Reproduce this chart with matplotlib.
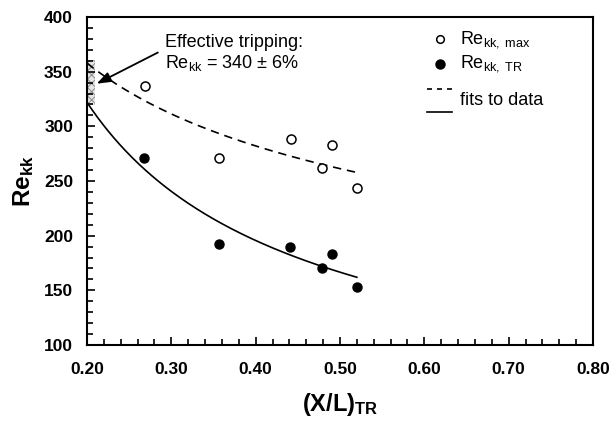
import numpy as np
import matplotlib
matplotlib.use("Agg")
import matplotlib.pyplot as plt
from matplotlib.patches import Rectangle
from matplotlib.ticker import MultipleLocator, FormatStrFormatter

plt.rcParams['font.family'] = ['Liberation Sans', 'DejaVu Sans']
plt.rcParams['mathtext.fontset'] = 'custom'
plt.rcParams['mathtext.rm'] = 'Liberation Sans'
plt.rcParams['mathtext.it'] = 'Liberation Sans:italic'
plt.rcParams['mathtext.bf'] = 'Liberation Sans:bold'
plt.rcParams['hatch.linewidth'] = 0.7

# data
x_max = [0.269, 0.357, 0.442, 0.479, 0.490, 0.520]
re_max = [337, 271, 288, 262, 283, 244]
x_tr = [0.268, 0.357, 0.441, 0.479, 0.490, 0.520]
re_tr = [271, 192, 190, 170, 183, 153]

# power-law fits  Re = a * x^b
fit_max = (206.0, -0.343)
fit_tr = (101.2, -0.719)
fit_range = (0.20, 0.52)

trip_value = 340
trip_pct = 0.06
trip_x = (0.20, 0.2095)

fig = plt.figure(figsize=(6.11, 4.22), dpi=100)
ax = fig.add_axes([0.1424, 0.1825, 0.8281, 0.7772])

xf = np.linspace(fit_range[0], fit_range[1], 200)
ax.plot(xf, fit_max[0] * xf ** fit_max[1], color='black', lw=1.2, ls=(0, (5, 3.5)))
ax.plot(xf, fit_tr[0] * xf ** fit_tr[1], color='black', lw=1.2)

ax.plot(x_max, re_max, 'o', ms=6.5, mfc='white', mec='black', mew=1.1, ls='none')
ax.plot(x_tr, re_tr, 'o', ms=6.5, mfc='black', mec='black', ls='none')

rect = Rectangle((trip_x[0], trip_value * (1 - trip_pct)), trip_x[1] - trip_x[0],
                 2 * trip_value * trip_pct, facecolor='#e6e6e6', edgecolor='#8c8c8c',
                 hatch='xxxx', lw=0, zorder=1)
ax.add_patch(rect)

ax.annotate('', xy=(0.2115, 339), xytext=(0.284, 367.5),
            arrowprops=dict(arrowstyle='-|>,head_length=0.6,head_width=0.22', color='black',
                            lw=1.3, mutation_scale=14, shrinkA=0, shrinkB=0))
ax.text(0.2926, 377, 'Effective tripping:', fontsize=13, va='center', ha='left')
ax.text(0.2926, 357.5, r'Re$_{\mathregular{kk}}$ = 340 ± 6%', fontsize=13, va='center', ha='left')

# legend (manual)
tr = ax.transAxes
def ax_xy(px, py):
    return ((px - 87) / (593 - 87), (345 - py) / (345 - 17))
p = ax_xy(440, 38.5)
ax.plot([p[0]], [p[1]], 'o', ms=5.5, mfc='white', mec='black', mew=1.1, transform=tr)
p = ax_xy(440, 63.5)
ax.plot([p[0]], [p[1]], 'o', ms=6.5, mfc='black', mec='black', transform=tr)
a0 = ax_xy(427, 88.5); a1 = ax_xy(452, 88.5)
ax.plot([a0[0], a1[0]], [a0[1], a1[1]], color='black', lw=1.2, ls=(0, (3, 3)), transform=tr)
a0 = ax_xy(427, 112); a1 = ax_xy(452, 112)
ax.plot([a0[0], a1[0]], [a0[1], a1[1]], color='black', lw=1.2, transform=tr)
p = ax_xy(460, 40)
ax.text(p[0], p[1], r'Re$_{\mathregular{kk,\ max}}$', fontsize=13, va='center', transform=tr)
p = ax_xy(460, 64)
ax.text(p[0], p[1], r'Re$_{\mathregular{kk,\ TR}}$', fontsize=13, va='center', transform=tr)
p = ax_xy(460, 100)
ax.text(p[0], p[1], 'fits to data', fontsize=13, va='center', transform=tr)

ax.set_xlim(0.2, 0.8)
ax.set_ylim(100, 400)
ax.xaxis.set_major_locator(MultipleLocator(0.1))
ax.xaxis.set_minor_locator(MultipleLocator(0.02))
ax.yaxis.set_major_locator(MultipleLocator(50))
ax.yaxis.set_minor_locator(MultipleLocator(10))
ax.xaxis.set_major_formatter(FormatStrFormatter('%.2f'))
ax.tick_params(which='both', direction='in', top=False, right=False, width=1.2)
ax.tick_params(which='major', length=6)
ax.tick_params(which='minor', length=4)
ax.tick_params(axis='x', which='major', pad=12)
ax.tick_params(axis='y', which='major', pad=10)
for lab in ax.get_xticklabels() + ax.get_yticklabels():
    lab.set_fontsize(12.5)
    lab.set_fontweight('bold')
for s in ax.spines.values():
    s.set_linewidth(1.5)

ax.set_xlabel(r'(X/L)$_{\mathbf{TR}}$', fontsize=17, fontweight='bold', labelpad=10)
ax.set_ylabel(r'Re$_{\mathbf{kk}}$', fontsize=17.5, fontweight='bold', labelpad=6)

fig.savefig('out.png', dpi=100)
